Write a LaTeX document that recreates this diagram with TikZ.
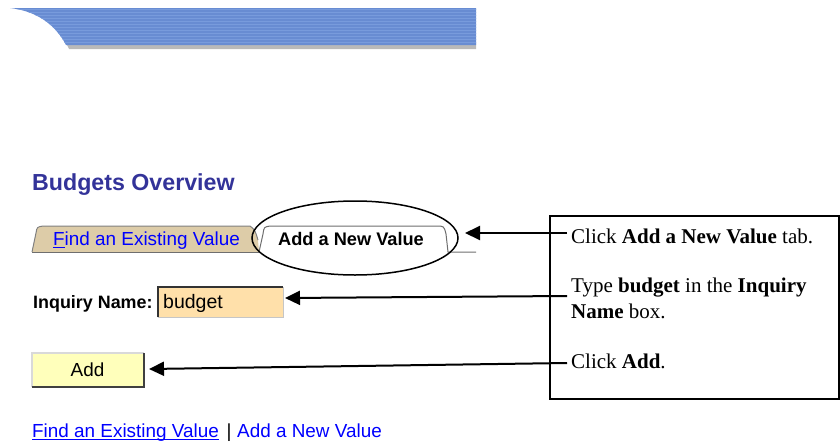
\documentclass[tikz,border=0pt]{standalone}
\usepackage{fontspec}
\setmainfont{Liberation Serif}
\setsansfont{Liberation Sans}
\usetikzlibrary{shapes.geometric,arrows.meta}
\definecolor{titleblue}{RGB}{51,51,153}
\definecolor{linkblue}{RGB}{0,0,255}
\definecolor{tabtan}{RGB}{221,204,168}
\definecolor{peach}{RGB}{255,224,170}
\definecolor{btnyellow}{RGB}{255,255,187}
\definecolor{bannerblue}{RGB}{104,140,210}
\definecolor{bannerlight}{RGB}{120,155,220}
\definecolor{tabgray}{RGB}{110,110,110}
\begin{document}
\begin{tikzpicture}[x=1pt,y=-1pt,
  ui/.style={font=\sffamily\fontsize{18.9}{22}\selectfont, inner sep=0pt, anchor=base west},
  uibold/.style={font=\sffamily\bfseries\fontsize{18.2}{22}\selectfont, inner sep=0pt, anchor=base west},
  note/.style={font=\fontsize{21}{26}\selectfont, inner sep=0pt, anchor=base west, align=left},
  arr/.style={line width=2pt, -{Triangle[length=15pt,width=14pt]}},
  uline/.style={linkblue, line width=1pt},
]
\useasboundingbox (0,0) rectangle (840,442);

% banner
\fill[gray!55] (66,43) -- (476,43) -- (476,49) -- (69,49) -- cycle;
\fill[bannerblue] (10,8) .. controls (36,11) and (55,24) .. (66,45) -- (476,45) -- (476,8) -- cycle;
\begin{scope}
  \clip (10,8) .. controls (36,11) and (55,24) .. (66,45) -- (476,45) -- (476,8) -- cycle;
  \foreach \yy in {9.5,12.5,...,44} \draw[bannerlight,line width=1pt] (0,\yy) -- (480,\yy);
\end{scope}

% title
\node[font=\sffamily\bfseries\fontsize{23.2}{26}\selectfont, text=titleblue, inner sep=0pt, anchor=base west] (title) at (32,190) {Budgets Overview};

% tabs
\fill[tabtan] (32,252) -- (36,233) .. controls (37,227) .. (43,226) -- (250,226) .. controls (255,230) .. (258,240) -- (259,252) -- cycle;
\draw[gray, line width=1pt] (32,252) -- (36,233) .. controls (37,227) .. (43,226) -- (250,226) .. controls (255,230) .. (258,240);
\fill[white] (259,252) -- (263,234) .. controls (264,227) .. (270,226) -- (436,226) .. controls (444,226) .. (446,234) -- (448,252) -- cycle;
\draw[tabgray, line width=1pt] (259,252) -- (263,234) .. controls (264,227) .. (270,226) -- (436,226) .. controls (444,226) .. (446,234) -- (448,252) -- (476,252);
\draw[tabgray, line width=1.2pt] (32,252.5) -- (259,252.5);
\node[ui, text=linkblue] (tabfind) at (53,245) {Find an Existing Value};
\draw[uline] ([yshift=-2pt]tabfind.base west) -- ++(11.5,0);
\node[uibold] (tabadd) at (278,245) {Add a New Value};

% highlight ellipse
\node[draw, ellipse, line width=1.5pt, minimum width=206pt, minimum height=74pt, inner sep=0pt] (ell) at (355,238) {};

% inquiry name
\node[font=\sffamily\bfseries\fontsize{17.9}{20}\selectfont, inner sep=0pt, anchor=base west] (lbl) at (33,308) {Inquiry Name:};
\node[fill=peach, minimum width=125pt, minimum height=30pt, inner sep=0pt, anchor=north west] (inp) at (158,287) {};
\draw[gray!40!black, line width=1.5pt] (inp.south west) -- (inp.north west) -- (inp.north east);
\draw[gray!45, line width=1.5pt] (inp.north east) -- (inp.south east) -- (inp.south west);
\node[ui, font=\sffamily\fontsize{19.5}{22}\selectfont] (budget) at (163,308) {budget};

% add button
\node[fill=btnyellow, minimum width=112pt, minimum height=34pt, inner sep=0pt, anchor=north west] (btn) at (32,353) {};
\draw[gray!30, line width=1.5pt] (btn.south west) -- (btn.north west) -- (btn.north east);
\draw[gray!50!black, line width=2pt] (btn.north east) -- (btn.south east) -- (btn.south west);
\node[ui, anchor=base] (btntext) at (87.5,376) {Add};

% bottom links
\node[ui, text=linkblue] (lfind) at (32,437) {Find an Existing Value};
\draw[uline] ([yshift=-2pt]lfind.base west) -- ([yshift=-2pt]lfind.base east);
\node[ui, anchor=base] (pipe) at (229,437) {|};
\node[ui, text=linkblue] (ladd) at (237,437) {Add a New Value};

% instruction box
\node[draw, line width=2pt, minimum width=289pt, minimum height=183pt, inner sep=0pt, anchor=north west] (box) at (549,215) {};
\node[note] (n1) at (571,243) {Click \textbf{Add a New Value} tab.};
\node[note] (n2) at (571,318) {Type \textbf{budget} in the \textbf{Inquiry}\\\textbf{Name} box.};
\node[note] (n3) at (571,368) {Click \textbf{Add}.};

% connectors
\coordinate (s1) at (567,233);
\coordinate (e1) at (465,233);
\coordinate (s2) at (567,296);
\coordinate (e2) at (285,298);
\coordinate (s3) at (567,363);
\coordinate (e3) at (149,369);
\draw[arr] (s1) -- (e1);
\draw[arr] (s2) -- (e2);
\draw[arr] (s3) -- (e3);
\end{tikzpicture}
\end{document}
